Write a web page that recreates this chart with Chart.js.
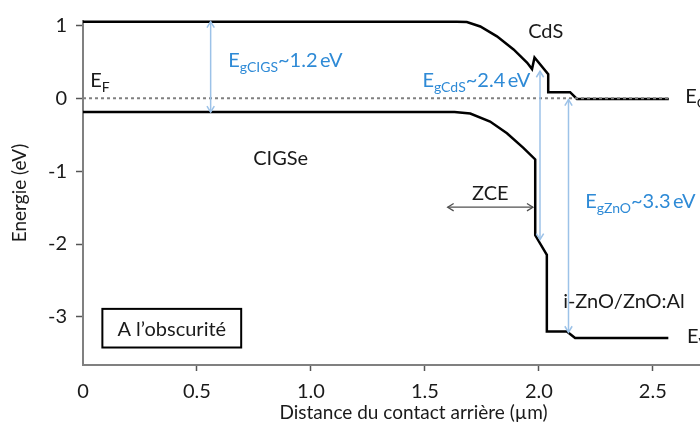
<!DOCTYPE html>
<html>
<head>
<meta charset="utf-8">
<script src="https://cdn.jsdelivr.net/npm/chart.js@4"></script>
<style>
  html, body { margin: 0; padding: 0; overflow: hidden; background: #fff; }
</style>
</head>
<body>
<canvas id="bandChart" width="760" height="432"></canvas>
<script>
// band edges: position (µm) / energy (eV)
const cbX = [0, 1.64, 1.684, 1.743, 1.816, 1.889, 1.948, 1.970, 1.981, 2.041, 2.041, 2.137, 2.167, 2.57];
const cbE = [1.05, 1.05, 1.045, 0.985, 0.85, 0.67, 0.49, 0.40, 0.56, 0.33, 0.084, 0.084, -0.01, -0.01];
const vbX = [0, 1.63, 1.699, 1.786, 1.86, 1.932, 1.984, 1.984, 2.035, 2.035, 2.123, 2.159, 2.568];
const vbE = [-0.19, -0.19, -0.21, -0.32, -0.48, -0.68, -0.84, -1.88, -2.15, -3.20, -3.20, -3.29, -3.29];
const fermiX = [0, 2.57];
const fermiE = [0, 0];

const xTicks = [0, 0.5, 1.0, 1.5, 2.0, 2.5];
const yTicks = [1, 0, -1, -2, -3];

// band gap arrows
const gapNames = ['CIGS', 'CdS', 'ZnO'];
const gapValues = ['1.2', '2.4', '3.3'];
const gapX = [0.56, 2.005, 2.13];
const gapTop = [1.05, 0.37, -0.02];
const gapBottom = [-0.19, -1.94, -3.21];

// space charge zone
const zceX = [1.60, 1.974];
const zceE = -1.495;

var BLUE = '#2e8ad6';
var ARROW_BLUE = '#9cc2e8';
var INK = '#1a1a1a';
var FONT = 'Lato, "Open Sans", sans-serif';

function pts(xs, ys) {
  return xs.map(function (x, i) { return { x: x, y: ys[i] }; });
}

function head(ctx, x, y, ang, size) {
  ctx.beginPath();
  ctx.moveTo(x - size * Math.cos(ang - 0.55), y - size * Math.sin(ang - 0.55));
  ctx.lineTo(x, y);
  ctx.lineTo(x - size * Math.cos(ang + 0.55), y - size * Math.sin(ang + 0.55));
  ctx.stroke();
}

function subText(ctx, px, py, main, sub, rest, color) {
  ctx.fillStyle = color;
  ctx.textAlign = 'left';
  ctx.textBaseline = 'alphabetic';
  ctx.font = '20px ' + FONT;
  ctx.fillText(main, px, py);
  var w = ctx.measureText(main).width;
  ctx.font = '14px ' + FONT;
  ctx.fillText(sub, px + w, py + 5);
  w += ctx.measureText(sub).width;
  if (rest) {
    ctx.font = '20px ' + FONT;
    ctx.fillText(rest, px + w, py);
  }
}

const annot = {
  id: 'annot',
  afterDatasetsDraw: function (chart) {
    var ctx = chart.ctx, x = chart.scales.x, y = chart.scales.y;
    ctx.save();

    // band gap arrows
    ctx.strokeStyle = ARROW_BLUE;
    ctx.lineWidth = 1.5;
    for (var i = 0; i < gapX.length; i++) {
      var px = x.getPixelForValue(gapX[i]);
      var y1 = y.getPixelForValue(gapTop[i]);
      var y2 = y.getPixelForValue(gapBottom[i]);
      ctx.beginPath();
      ctx.moveTo(px, y1);
      ctx.lineTo(px, y2);
      ctx.stroke();
      head(ctx, px, y1, -Math.PI / 2, 7);
      head(ctx, px, y2, Math.PI / 2, 7);
    }

    // ZCE arrow
    ctx.strokeStyle = '#505050';
    ctx.lineWidth = 1.3;
    var zy = y.getPixelForValue(zceE);
    var za = x.getPixelForValue(zceX[0]), zb = x.getPixelForValue(zceX[1]);
    ctx.beginPath();
    ctx.moveTo(za, zy);
    ctx.lineTo(zb, zy);
    ctx.stroke();
    head(ctx, za, zy, Math.PI, 7);
    head(ctx, zb, zy, 0, 7);

    // labels
    ctx.font = '20px ' + FONT;
    ctx.fillStyle = INK;
    ctx.textBaseline = 'alphabetic';
    ctx.textAlign = 'left';
    ctx.fillText('CdS', x.getPixelForValue(1.953), y.getPixelForValue(0.83));
    ctx.fillText('CIGSe', x.getPixelForValue(0.747), y.getPixelForValue(-0.91));
    ctx.fillText('i-ZnO/ZnO:Al', x.getPixelForValue(2.107), y.getPixelForValue(-2.88));
    ctx.textAlign = 'center';
    ctx.fillText('ZCE', (za + zb) / 2, y.getPixelForValue(-1.40));

    subText(ctx, x.getPixelForValue(0.032), y.getPixelForValue(0.155), 'E', 'F', '', INK);
    subText(ctx, x.getPixelForValue(2.642), y.getPixelForValue(-0.07), 'E', 'C', '', INK);
    subText(ctx, x.getPixelForValue(2.65), y.getPixelForValue(-3.36), 'E', 'V', '', INK);

    var gapLabelPos = [[0.637, 0.43], [1.489, 0.15], [2.203, -1.50]];
    for (var j = 0; j < gapNames.length; j++) {
      subText(ctx, x.getPixelForValue(gapLabelPos[j][0]), y.getPixelForValue(gapLabelPos[j][1]),
        'E', 'g' + gapNames[j], '~' + gapValues[j] + '\u2009eV', BLUE);
    }

    // "A l'obscurité" box
    var bx1 = x.getPixelForValue(0.085), bx2 = x.getPixelForValue(0.694);
    var by1 = y.getPixelForValue(-2.89), by2 = y.getPixelForValue(-3.42);
    ctx.strokeStyle = '#000';
    ctx.lineWidth = 2;
    ctx.strokeRect(bx1, by1, bx2 - bx1, by2 - by1);
    ctx.fillStyle = INK;
    ctx.font = '20px ' + FONT;
    ctx.textAlign = 'center';
    ctx.textBaseline = 'middle';
    ctx.fillText('A l\u2019obscurit\u00e9', (bx1 + bx2) / 2, (by1 + by2) / 2 + 1);

    ctx.restore();
  }
};

var bandChart = new Chart(document.getElementById('bandChart'), {
  type: 'line',
  data: {
    datasets: [
      { data: pts(fermiX, fermiE), borderColor: '#808080', borderWidth: 2, borderDash: [3, 3], pointRadius: 0 },
      { data: pts(cbX, cbE), borderColor: '#000', borderWidth: 2.5, pointRadius: 0, tension: 0, clip: 4 },
      { data: pts(vbX, vbE), borderColor: '#000', borderWidth: 2.5, pointRadius: 0, tension: 0, clip: 4 }
    ]
  },
  options: {
    responsive: false,
    animation: false,
    layout: { padding: { left: 0, top: 16, right: 16, bottom: 0 } },
    plugins: { legend: { display: false }, tooltip: { enabled: false } },
    scales: {
      x: {
        type: 'linear',
        min: 0,
        max: 2.9,
        afterBuildTicks: function (s) { s.ticks = xTicks.map(function (v) { return { value: v }; }); },
        afterFit: function (s) { s.height = 67; },
        ticks: {
          autoSkip: false,
          maxRotation: 0,
          padding: 9,
          color: INK,
          font: { family: FONT, size: 20 },
          callback: function (v) { return v === 0 ? '0' : v.toFixed(1); }
        },
        grid: {
          drawOnChartArea: false,
          tickLength: 6,
          tickColor: function (c) { return c.tick && c.tick.value === 0 ? 'rgba(0,0,0,0)' : '#555'; },
          tickWidth: 1.5
        },
        border: { color: '#808080', width: 2 },
        title: {
          display: true,
          text: 'Distance du contact arrière (µm)',
          color: INK,
          font: { family: FONT, size: 19 },
          padding: { top: 0, bottom: 8 }
        }
      },
      y: {
        min: -3.66,
        max: 1.06,
        afterBuildTicks: function (s) { s.ticks = yTicks.map(function (v) { return { value: v }; }); },
        afterFit: function (s) { s.width = 83; },
        ticks: {
          padding: 9,
          color: INK,
          font: { family: FONT, size: 20 },
          callback: function (v) { return String(v); }
        },
        grid: { drawOnChartArea: false, tickLength: 7, tickColor: '#555', tickWidth: 1.5 },
        border: { color: '#808080', width: 2 },
        title: {
          display: true,
          text: 'Energie (eV)',
          color: INK,
          font: { family: FONT, size: 19 },
          padding: { top: 8, bottom: 0 }
        }
      }
    }
  },
  plugins: [annot]
});
</script>
</body>
</html>
